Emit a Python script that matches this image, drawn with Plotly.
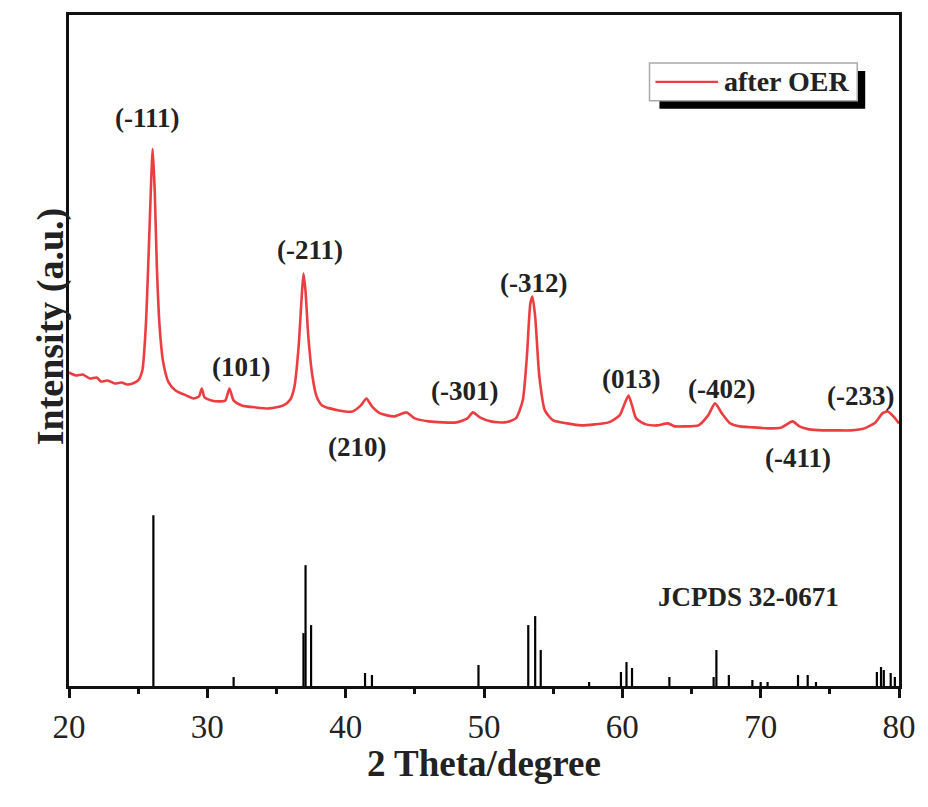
import plotly.graph_objects as go

# ---- measured XRD pattern (after OER) ----
two_theta = [20.0, 20.5, 21.0, 21.5, 22.0, 22.3, 22.8, 23.3, 23.8, 24.2, 24.6, 25.0, 25.3, 25.55, 25.75,
             25.9, 26.05, 26.2, 26.35, 26.55, 26.8, 27.2, 27.7, 28.3, 29.0, 29.4, 29.6, 29.8, 30.3,
             30.8, 31.3, 31.6, 31.9, 32.5, 33.5, 34.5, 35.5, 36.0, 36.3, 36.6, 36.8, 36.95, 37.1,
             37.3, 37.6, 37.9, 38.3, 39.5, 40.5, 41.1, 41.5, 41.9, 42.5, 43.5, 44.4, 45.0, 46.0,
             47.0, 48.0, 48.8, 49.2, 49.7, 50.5, 51.5, 52.3, 52.8, 53.1, 53.35, 53.5, 53.7, 54.0,
             54.4, 55.0, 56.0, 57.0, 58.0, 59.0, 59.8, 60.2, 60.45, 60.7, 61.0, 61.7, 62.5, 63.3,
             63.8, 64.5, 65.5, 66.2, 66.7, 67.2, 67.8, 68.5, 69.5, 70.5, 71.5, 72.3, 72.8, 73.5,
             74.5, 75.5, 76.5, 77.5, 78.3, 78.8, 79.2, 79.6, 80.0]
intensity = [314, 311, 312, 308, 309, 305, 306, 303, 304, 302, 303, 306, 316, 360, 430,
             490, 538, 495, 420, 360, 325, 304, 296, 292, 288, 290, 298, 289, 286,
             285, 286, 298, 286, 281, 279, 278, 281, 287, 300, 340, 385, 413, 395,
             350, 310, 290, 281, 276, 275, 281, 288, 280, 273, 270, 274, 268, 265,
             264, 264, 268, 274, 269, 265, 264, 268, 286, 330, 383, 390, 370, 310,
             276, 266, 263, 261, 262, 264, 271, 284, 291, 281, 268, 262, 261, 263,
             260, 260, 261, 271, 283, 273, 263, 260, 259, 258, 259, 265, 260, 257,
             256, 256, 256, 258, 264, 273, 275, 270, 263]

# ---- JCPDS 32-0671 reference lines ----
ref_pos = [26.1, 31.9, 36.95, 37.1, 37.5, 41.4, 41.9, 49.6, 53.2, 53.7, 54.1, 57.6, 59.9, 60.3,
           60.7, 63.4, 66.6, 66.8, 67.7, 69.4, 70.0, 70.5, 72.7, 73.4, 74.0, 78.4, 78.7, 78.9,
           79.4, 79.7]
ref_int = [171, 9, 53, 121, 61, 13, 11, 21, 61, 70, 36, 4, 14, 24,
           18, 9, 9, 36, 11, 6, 4, 4, 11, 11, 4, 14, 19, 16,
           13, 9]

# ---- peak labels ----
hkl_labels = ["(-111)", "(101)", "(-211)", "(210)", "(-301)", "(-312)", "(013)", "(-402)", "(-411)", "(-233)"]
hkl_x = [25.7, 32.45, 37.4, 40.8, 48.6, 53.56, 60.65, 67.2, 72.7, 77.2]
hkl_y = [569, 319, 437, 239, 295, 404, 307, 297, 228, 290]

FONT = "Times New Roman, Liberation Serif, serif"
RED = "rgb(236,62,64)"

# stick segments built from the reference arrays
sx, sy = [], []
for p, h in zip(ref_pos, ref_int):
    sx += [p, p, None]
    sy += [0, h, None]

fig = go.Figure()
fig.add_trace(go.Scatter(x=two_theta, y=intensity, mode="lines", name="after OER",
                         line=dict(color=RED, width=2.6, shape="spline", smoothing=0.6),
                         showlegend=False))
fig.add_trace(go.Scatter(x=sx, y=sy, mode="lines", name="JCPDS 32-0671",
                         line=dict(color="black", width=2.2), showlegend=False))

for t, x, y in zip(hkl_labels, hkl_x, hkl_y):
    fig.add_annotation(x=x, y=y, text="<b>%s</b>" % t, showarrow=False, xref="x", yref="y",
                       font=dict(family=FONT, size=27, color="#222"))

fig.add_annotation(x=69.1, y=89, text="<b>JCPDS 32-0671</b>", showarrow=False,
                   font=dict(family=FONT, size=27, color="#222"))

# page geometry (body margin removed in the page, see write_html)
W, H = 928, 807
L, R, T, B = 69, 928 - 904, 14, 807 - 686
pw, ph = W - L - R, H - T - B
def px(x): return (x - L) / pw
def py(y): return (H - B - y) / ph

fig.add_shape(type="rect", xref="paper", yref="paper", x0=px(663), x1=px(870), y0=py(108), y1=py(70),
              fillcolor="black", line=dict(width=0), layer="above")
fig.add_shape(type="rect", xref="paper", yref="paper", x0=px(653), x1=px(862), y0=py(100), y1=py(62),
              fillcolor="white", line=dict(color="#aaaaaa", width=1.5), layer="above")
fig.add_shape(type="line", xref="paper", yref="paper", x0=px(659), x1=px(722), y0=py(81), y1=py(81),
              line=dict(color=RED, width=2.2), layer="above")
fig.add_annotation(xref="paper", yref="paper", x=px(726), y=py(81), xanchor="left", yanchor="middle",
                   text="<b>after OER</b>", showarrow=False,
                   font=dict(family=FONT, size=28, color="#222"))

# axis titles
fig.add_annotation(xref="paper", yref="paper", x=px(27), y=py(326), text="<b>Intensity (a.u.)</b>",
                   textangle=-90, showarrow=False,
                   font=dict(family=FONT, size=38, color="#222"))
fig.add_annotation(xref="paper", yref="paper", x=px(487), y=py(786), text="<b>2 Theta/degree</b>",
                   showarrow=False, font=dict(family=FONT, size=37, color="#222"))

fig.update_layout(
    width=W, height=H,
    margin=dict(l=L, r=R, t=T, b=B),
    paper_bgcolor="white", plot_bgcolor="white",
    xaxis=dict(range=[20, 80], dtick=10, tick0=20, ticks="outside", ticklen=9, tickwidth=2.5,
               tickcolor="#111", showline=True, linewidth=3, linecolor="#111", mirror=True,
               showgrid=False, zeroline=False,
               tickfont=dict(family=FONT, size=33, color="#222"),
               minor=dict(dtick=5, tick0=20, ticks="outside", ticklen=5, tickwidth=2.5, tickcolor="#111",
                          showgrid=False)),
    yaxis=dict(range=[0, 672], showticklabels=False, ticks="", showline=True, linewidth=3,
               linecolor="#111", mirror=True, showgrid=False, zeroline=False),
)

fig.write_html("out.html", config={"displayModeBar": False, "responsive": False},
               post_script="document.body.style.margin='0';document.body.style.overflow='hidden';")
